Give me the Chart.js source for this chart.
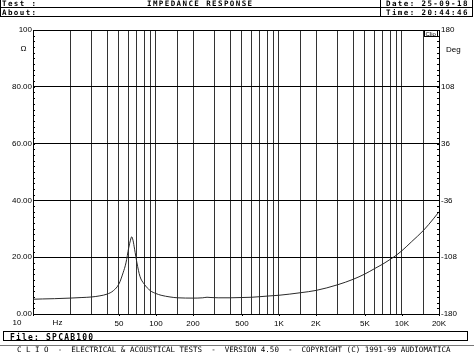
<!DOCTYPE html>
<html>
<head>
<meta charset="utf-8">
<script src="https://cdn.jsdelivr.net/npm/chart.js@4.4.0/dist/chart.umd.min.js"></script>
<style>
html, body { margin: 0; padding: 0; background: #fff; }
</style>
</head>
<body>
<canvas id="impedance" width="474" height="353"></canvas>
<script>
// impedance curve (Hz / ohm)
var freqs = [10, 12, 15, 20, 25, 30, 35, 40, 45, 50, 54, 57, 60, 62, 63.5, 65, 67, 70, 74, 80, 90, 100, 110, 130, 150, 200, 240, 260, 280, 320, 400, 500, 600, 700, 800, 1000, 1500, 2000, 3000, 4000, 5000, 6000, 7000, 8000, 9000, 10000, 12000, 15000, 18000, 20000];
var ohms = [5.2, 5.3, 5.4, 5.6, 5.8, 6.0, 6.4, 7.0, 8.2, 10.6, 14.5, 18.0, 23.3, 26.0, 27.2, 26.0, 22.8, 18.0, 13.3, 10.6, 8.2, 7.2, 6.6, 6.0, 5.7, 5.6, 5.7, 5.9, 5.8, 5.7, 5.7, 5.8, 5.9, 6.1, 6.3, 6.6, 7.5, 8.3, 10.3, 12.2, 14.1, 16.0, 17.6, 19.2, 20.7, 22.3, 25.5, 29.5, 33.5, 36.0];

var gridFreqs = [10, 20, 30, 40, 50, 60, 70, 80, 90, 100, 150, 200, 300, 400, 500, 600, 700, 800, 900, 1000, 1500, 2000, 3000, 4000, 5000, 6000, 7000, 8000, 9000, 10000, 15000, 20000];
var freqLabels = {50: '50', 100: '100', 200: '200', 500: '500', 1000: '1K', 2000: '2K', 5000: '5K', 10000: '10K', 20000: '20K'};
var ohmTicks = [0, 20, 40, 60, 80, 100];
var degTicks = [-180, -108, -36, 36, 108, 180];

var points = [];
for (var i = 0; i < freqs.length; i++) {
    points.push({x: freqs[i], y: ohms[i]});
}

var labelFont = {family: '"Liberation Sans", Arial, sans-serif', size: 8};

// header, footer and the little extras CLIO draws round the plot
var clioFrame = {
    id: 'clioFrame',
    afterDraw: function(chart) {
        var ctx = chart.ctx;
        var area = chart.chartArea;
        var ys = chart.scales.y;
        var xs = chart.scales.x;
        ctx.save();

        // minor ticks on both vertical axes
        ctx.strokeStyle = '#000';
        ctx.lineWidth = 1;
        ctx.beginPath();
        for (var v = 0; v <= 100; v += 2) {
            var py = Math.round(ys.getPixelForValue(v)) + 0.5;
            ctx.moveTo(area.left, py); ctx.lineTo(area.left + 2, py);
            ctx.moveTo(area.right - 2, py); ctx.lineTo(area.right, py);
        }
        for (var f in freqLabels) {
            var px = Math.round(xs.getPixelForValue(+f)) + 0.5;
            ctx.moveTo(px, area.bottom); ctx.lineTo(px, area.bottom + 2);
        }
        ctx.moveTo(area.left + 0.5, area.bottom); ctx.lineTo(area.left + 0.5, area.bottom + 2);
        ctx.stroke();

        // header box
        ctx.beginPath();
        ctx.moveTo(0.5, 0); ctx.lineTo(0.5, 17);
        ctx.moveTo(472.5, 0); ctx.lineTo(472.5, 17);
        ctx.moveTo(380.5, 0); ctx.lineTo(380.5, 17);
        ctx.moveTo(0, 7.5); ctx.lineTo(473, 7.5);
        ctx.moveTo(0, 16.5); ctx.lineTo(473, 16.5);
        ctx.stroke();

        ctx.fillStyle = '#000';
        ctx.textBaseline = 'alphabetic';
        ctx.textAlign = 'left';
        ctx.font = 'bold 7.5px "DejaVu Sans Mono", monospace';
        ctx.letterSpacing = '1.4px';
        ctx.fillText('Test :', 2, 6.3);
        ctx.fillText('IMPEDANCE RESPONSE', 147, 6.3);
        ctx.fillText('Date: 25-09-18', 386, 6.3);
        ctx.fillText('About:', 2, 14.8);
        ctx.fillText('Time: 20:44:46', 386, 14.8);

        // file box
        ctx.strokeRect(3.5, 331.5, 464, 9);
        ctx.font = 'bold 8px "DejaVu Sans Mono", monospace';
        ctx.letterSpacing = '1.2px';
        ctx.fillText('File: SPCAB100', 10, 339.5);

        // bottom banner
        ctx.strokeStyle = '#777';
        ctx.beginPath();
        ctx.moveTo(0, 345.5); ctx.lineTo(474, 345.5);
        ctx.stroke();
        ctx.letterSpacing = '0px';
        ctx.font = '7.5px "DejaVu Sans Mono", monospace';
        ctx.fillText('C L I O  -  ELECTRICAL & ACOUSTICAL TESTS  -  VERSION 4.50  -  COPYRIGHT (C) 1991-99 AUDIOMATICA', 17, 352);

        // axis units
        ctx.font = '8px "Liberation Sans", Arial, sans-serif';
        ctx.textAlign = 'center';
        ctx.textBaseline = 'middle';
        ctx.fillText('\u03A9', 23.5, 48.5);
        ctx.textAlign = 'left';
        ctx.fillText('Deg', 446, 49.5);
        ctx.textAlign = 'center';
        ctx.textBaseline = 'top';
        ctx.fillText('10', 17, 319);
        ctx.fillText('Hz', 57.5, 319);

        // Clio tag in the corner
        ctx.strokeStyle = '#000';
        ctx.strokeRect(424.5, 30.5, 13, 6);
        ctx.font = '6px "Liberation Sans", Arial, sans-serif';
        ctx.textAlign = 'left';
        ctx.textBaseline = 'alphabetic';
        ctx.fillText('Clio', 425.5, 36);

        ctx.restore();
    }
};

var ctx = document.getElementById('impedance');

var impChart = new Chart(ctx, {
    type: 'line',
    data: {
        datasets: [{
            label: 'Impedance',
            data: points,
            borderColor: '#2a2a2a',
            borderWidth: 1,
            pointRadius: 0,
            fill: false,
            cubicInterpolationMode: 'monotone'
        }]
    },
    options: {
        responsive: false,
        animation: false,
        devicePixelRatio: 1,
        layout: {padding: {top: 30, left: 0, right: 0, bottom: 0}},
        plugins: {
            legend: {display: false},
            tooltip: {enabled: false}
        },
        scales: {
            x: {
                type: 'logarithmic',
                min: 10,
                max: 20000,
                afterBuildTicks: function(scale) {
                    scale.ticks = gridFreqs.map(function(f) { return {value: f}; });
                },
                afterFit: function(scale) { scale.height = 39; },
                grid: {color: '#333', lineWidth: 1, drawTicks: false},
                border: {color: '#000', width: 1},
                ticks: {
                    autoSkip: false,
                    maxRotation: 0,
                    padding: 5,
                    color: '#000',
                    font: labelFont,
                    callback: function(value) {
                        return freqLabels[value] || '';
                    }
                }
            },
            y: {
                position: 'left',
                min: 0,
                max: 100,
                afterBuildTicks: function(scale) {
                    scale.ticks = ohmTicks.map(function(v) { return {value: v}; });
                },
                afterFit: function(scale) { scale.width = 33; },
                grid: {color: '#000', lineWidth: 1, drawTicks: false},
                border: {color: '#000', width: 1},
                ticks: {
                    padding: 1,
                    color: '#000',
                    font: labelFont,
                    callback: function(value) {
                        return value === 100 ? '100' : value.toFixed(2);
                    }
                }
            },
            y2: {
                position: 'right',
                min: -180,
                max: 180,
                afterBuildTicks: function(scale) {
                    scale.ticks = degTicks.map(function(v) { return {value: v}; });
                },
                afterFit: function(scale) { scale.width = 35; },
                grid: {display: false, drawTicks: false},
                border: {color: '#000', width: 1},
                ticks: {
                    padding: 2,
                    color: '#000',
                    font: labelFont,
                    callback: function(value) { return String(value); }
                }
            }
        }
    },
    plugins: [clioFrame]
});
</script>
</body>
</html>
